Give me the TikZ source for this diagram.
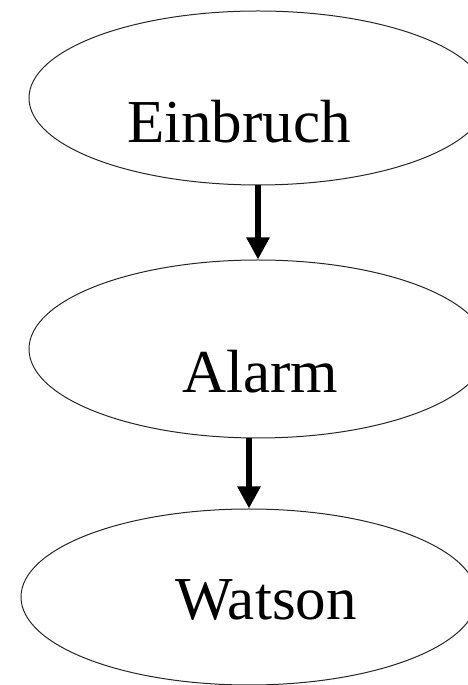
\documentclass[tikz,border=0pt]{standalone}
\usepackage{fontspec}
\setmainfont{Liberation Serif}
\usetikzlibrary{positioning,shapes.geometric,arrows.meta}

\begin{document}
\begin{tikzpicture}[x=1pt, y=1pt, node distance={74pt},
        main/.style = {draw=black!85, line width=1pt, ellipse, minimum width=458pt, minimum height=174pt, inner sep=0pt},
        word/.style = {font=\fontsize{61}{70}\selectfont},
        arr/.style = {line width=6pt, -{Triangle[width=22pt, length=22pt]}}]

        \clip (0,0) rectangle (468,685);
        \useasboundingbox (0,0) rectangle (468,685);

        \node[main, label={[word, xshift=-19pt, yshift=-24pt]center:Einbruch}] (einbruch) at (258,587) {};
        \node[main, minimum height=178pt, label={[word, xshift=2pt, yshift=-23pt]center:Alarm}] (alarm) [below=of einbruch] {};
        \node[main, minimum width=456pt, minimum height=176pt, label={[word, xshift=17pt, yshift=-3pt]center:Watson}] (watson) [below=70pt of alarm, xshift=-9pt] {};

        \draw[arr] (einbruch) -- (alarm);
        \draw[arr] (watson.north |- alarm.south) -- (watson);

    \end{tikzpicture}
\end{document}
